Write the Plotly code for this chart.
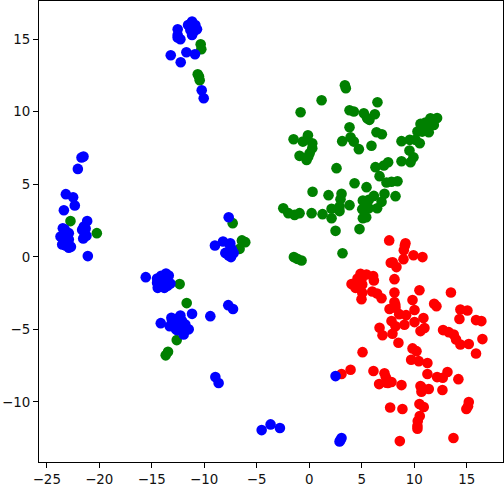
import plotly.graph_objects as go

red_x = [7.62, 9.17, 9.11, 9.01, 9.93, 10.79, 8.98, 7.77, 7.96, 8.31, 8.12, 4.89, 5.46, 6.09, 6.16, 4.03, 4.41, 4.73, 5.05, 5.05, 4.98, 6.0, 6.47, 6.89, 8.12, 10.5, 13.5, 9.84, 8.12, 7.65, 8.22, 8.57, 9.23, 10.03, 10.88, 10.03, 9.07, 11.9, 12.12, 14.4, 15.07, 14.31, 15.89, 16.4, 7.84, 8.22, 7.93, 6.7, 6.98, 10.98, 10.6, 12.75, 13.29, 13.77, 13.99, 14.4, 15.2, 16.5, 8.5, 5.08, 9.84, 10.22, 9.71, 10.44, 11.26, 15.89, 3.94, 3.08, 6.12, 7.17, 7.36, 7.84, 6.66, 8.79, 11.26, 13.17, 12.18, 12.72, 14.21, 10.6, 10.69, 11.39, 12.69, 7.71, 8.88, 10.5, 10.91, 15.2, 15.13, 14.97, 10.53, 10.34, 10.31, 10.31, 8.63, 13.74, 4.6, 4.9, 5.0, 8.2, 7.3, 7.5, 10.7]
red_y = [1.13, 0.94, 0.78, 0.46, 0.11, -0.02, -0.16, -0.41, -0.37, -0.71, -1.54, -1.17, -1.22, -1.33, -1.63, -1.88, -2.14, -1.79, -1.91, -2.48, -2.92, -2.39, -2.53, -2.85, -2.46, -2.3, -2.46, -2.98, -3.12, -3.6, -3.51, -3.95, -4.02, -3.67, -4.22, -4.5, -4.68, -3.24, -3.4, -3.63, -3.7, -4.29, -4.36, -4.43, -4.43, -4.78, -5.3, -4.89, -5.4, -4.91, -5.12, -5.05, -5.19, -5.35, -5.69, -6.04, -6.01, -5.67, -5.92, -6.57, -6.31, -6.5, -7.09, -7.19, -7.32, -6.66, -7.78, -8.08, -7.87, -8.03, -8.68, -8.63, -8.77, -8.84, -8.08, -7.94, -8.29, -8.33, -8.43, -8.91, -9.3, -9.11, -9.18, -10.38, -10.49, -10.15, -10.35, -10.01, -10.29, -10.49, -10.97, -11.32, -11.66, -11.85, -12.7, -12.49, -1.5, -1.9, -1.5, -3.3, -8.3, -8.7, -9.0]

blue_x = [-12.53, -12.53, -12.53, -12.27, -13.19, -12.24, -11.7, -10.88, -11.54, -11.16, -10.85, -10.69, -11.16, -11.32, -11.0, -10.24, -10.05,
          -21.69, -21.5, -22.04, -23.18, -22.49, -22.33, -23.37, -21.15, -21.47, -21.63, -21.22, -21.53, -23.47, -23.69, -23.22, -22.9, -23.37, -23.06, -23.53, -22.9, -23.22, -21.09,
          -7.67, -8.98, -8.21, -7.52, -7.99, -7.67, -7.45, -7.2, -7.52, -7.36,
          -15.57, -13.64, -13.38, -14.49, -14.18, -13.86, -13.22, -14.43, -13.8, -14.18, -13.7, -14.49, -14.02,
          -14.14, -13.13, -12.27, -11.16, -9.42, -7.71, -7.26, -8.94, -8.63, -13.29, -12.91, -12.59, -12.11, -11.8, -11.48, -11.96, -12.59, -12.27, -12.75, -12.11, -13.07, -11.8,
          2.51, -4.53, -3.68, -2.79, 2.89, 3.08, 2.98,
          -23.3, -22.9, -23.2, -23.0, -22.7, -21.4, -21.3, -23.1,
          -13.9, -13.6, -14.2, -13.9, -13.5, -14.1,
          -12.4, -12.6, -12.3, -12.0, -12.1, -12.9, -12.7,
          -11.2, -11.0, -11.4]
blue_y = [15.68, 15.29, 15.11, 14.99, 13.89, 13.41, 14.1, 13.96, 15.98, 16.21, 15.98, 15.68, 15.29, 15.63, 15.52, 11.48, 10.93,
          6.84, 6.91, 6.06, 4.32, 4.11, 3.54, 3.21, 2.46, 2.09, 1.86, 1.45, 1.26, 1.97, 1.4, 1.75, 1.63, 1.29, 1.17, 0.85, 0.62, 0.78, 0.05,
          2.73, 0.78, 1.06, 0.94, 0.27, 0.09, -0.02, 0.27, 0.73, 0.5,
          -1.4, -1.15, -1.29, -1.5, -1.45, -1.56, -1.84, -2.14, -2.14, -1.91, -1.91, -1.79, -1.68,
          -4.57, -4.2, -4.04, -3.93, -4.09, -3.33, -3.6, -8.29, -8.7, -4.78, -4.55, -4.43, -4.43, -4.66, -5.0, -5.35, -5.05, -4.89, -4.78, -5.05, -4.43, -4.89,
          -8.22, -11.94, -11.55, -11.8, -12.72, -12.49, -12.63,
          1.9, 1.2, 1.1, 0.9, 0.7, 1.6, 1.95, 1.45,
          -1.4, -1.6, -2.0, -2.0, -2.0, -1.3,
          -4.2, -4.7, -4.6, -4.7, -4.9, -4.3, -5.0,
          15.8, 15.7, 16.0]

green_x = [3.4, 3.49, 1.18, -0.82, 6.5, 3.84, 4.25, 5.2, 5.52, 5.74, 6.25, 3.84, 6.41, 6.92, -0.12, -1.49, -0.6, 0.29, 0.29, 0.04, -0.92, -0.25, -0.09, 3.14, 3.94, 4.25, 4.73, 5.93, 8.79, 9.58, 10.12, 10.53, 9.55, 9.93, 9.65, 8.79, 10.31, 10.76, 11.39, 10.6, 11.07, 11.55, 12.18, 11.87, 11.39, 10.91, 7.52, 7.11, 6.31, 6.7, 7.36, 7.84, 8.41, 2.6, 4.32, 5.46, 0.32, 1.84, 3.08, 2.98, 7.17, 8.22, 6.16, 5.68, 5.11, 6.89, 3.84, 2.13, 2.89, 2.89, 5.05, 5.68, 6.47, -2.47, -1.99, -1.39, -0.92, 0.23, 1.27, 2.13, 5.11, 5.43, 2.51, 4.79, 5.36,
           3.17, -1.46, -1.14, -0.73,
           -22.74, -20.23, -10.34, -10.28, -10.62, -10.5, -10.43, -7.29, -6.41, -6.09, -6.63,
           -12.34, -11.67, -12.62, -13.45, -13.67]
green_y = [11.82, 11.62, 10.79, 9.96, 10.65, 10.1, 10.01, 9.89, 9.55, 9.44, 9.83, 8.93, 8.59, 8.45, 8.38, 8.1, 7.94, 7.83, 7.48, 7.14, 6.96, 6.68, 6.91, 7.97, 8.24, 7.94, 7.42, 7.65, 7.97, 8.06, 8.06, 7.83, 7.32, 6.86, 6.52, 6.59, 8.63, 8.63, 8.59, 9.16, 9.25, 9.55, 9.57, 9.09, 9.09, 8.98, 6.52, 6.29, 6.18, 5.56, 5.12, 5.17, 5.21, 6.11, 5.07, 4.8, 4.48, 4.25, 4.34, 3.97, 4.34, 4.18, 4.2, 3.93, 3.88, 3.79, 3.56, 3.31, 3.47, 3.15, 3.28, 3.35, 3.35, 3.35, 3.01, 2.89, 3.01, 3.01, 2.94, 2.66, 2.66, 2.73, 1.79, 1.91, 3.47,
           0.25, -0.02, -0.14, -0.25,
           2.46, 1.63, 14.65, 14.3, 12.58, 12.42, 12.17, 2.32, 1.13, 1.01, 0.55,
           -1.88, -3.19, -5.74, -6.54, -6.79]

x_ticks = [-25, -20, -15, -10, -5, 0, 5, 10, 15]
y_ticks = [-10, -5, 0, 5, 10, 15]

W, H = 504, 485
fig = go.Figure()
for xs, ys, color in [(red_x, red_y, "#ff0000"), (green_x, green_y, "#008000"), (blue_x, blue_y, "#0000ff")]:
    fig.add_trace(go.Scatter(x=xs, y=ys, mode="markers",
                             marker=dict(color=color, size=10.6, line=dict(width=0)),
                             showlegend=False, hoverinfo="skip"))

axis_style = dict(showgrid=False, zeroline=False, showline=True, mirror=True,
                  linecolor="black", linewidth=1.2, ticks="outside", ticklen=5,
                  tickwidth=1, tickcolor="black",
                  tickfont=dict(family="DejaVu Sans", size=13.4, color="#111111"))
fig.update_layout(
    width=W, height=H, autosize=False,
    margin=dict(l=38.5, r=1, t=1, b=23, autoexpand=False),
    paper_bgcolor="white", plot_bgcolor="white",
)
fig.update_xaxes(range=[-25.74, 18.46], tickmode="array", tickvals=x_ticks,
                 ticktext=["\u2212%d" % -t if t < 0 else str(t) for t in x_ticks], **axis_style)
fig.update_yaxes(range=[-14.14, 17.63], tickmode="array", tickvals=y_ticks,
                 ticktext=["\u2212%d" % -t if t < 0 else str(t) for t in y_ticks], **axis_style)
fig.write_html("out.html", config=dict(displayModeBar=False),
               post_script="document.body.style.margin='0';document.documentElement.style.overflow='hidden';")
